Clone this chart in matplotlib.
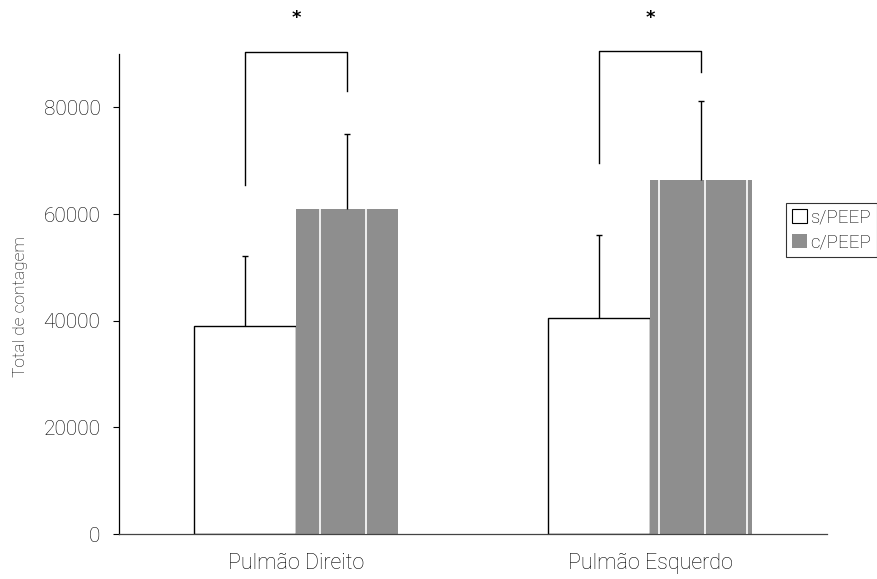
import matplotlib
matplotlib.use('Agg')
from matplotlib import pyplot as plt
from matplotlib.patches import Patch
import numpy as np

# Contagem total por pulmão, sem e com PEEP (média + desvio)
groups = ['Pulmão Direito', 'Pulmão Esquerdo']
series_names = ['s/PEEP', 'c/PEEP']
sem_peep = [39000, 40500]
sem_peep_err = [13100, 15500]
com_peep = [61000, 66300]
com_peep_err = [14000, 14800]

# Colchetes de significância (*) entre os dois grupos
bracket_top = [90300, 90500]
bracket_left_end = [65400, 69500]
bracket_right_end = [83000, 86600]
star_y = 96700

y_ticks = [0, 20000, 40000, 60000, 80000]

plt.rcParams['font.family'] = ['Roboto', 'DejaVu Sans']
plt.rcParams['font.weight'] = 'light'

bar_w = 0.287
gray = '#8e8e8e'
# seams of the gray fill, as fractions of the bar width
seams = [[0.235, 0.69], [0.09, 0.54, 0.95]]

fig = plt.figure(figsize=(8.77, 5.79), dpi=100)
ax = fig.add_axes([119 / 877, 45 / 579, 708 / 877, 480 / 579])

x = np.arange(len(groups))
x_s = x - bar_w / 2
x_c = x + bar_w / 2

ax.bar(x_s, sem_peep, bar_w, color='white', edgecolor='black', linewidth=1.0, zorder=2)
ax.bar(x_c, com_peep, bar_w, color=gray, edgecolor='none', zorder=2)
for i in range(len(groups)):
    left = x_c[i] - bar_w / 2
    for f in seams[i]:
        ax.vlines(left + f * bar_w, 0, com_peep[i], color='white', linewidth=1.2, zorder=3)

# error bars, upper side only (lower caps hidden)
for xs, vals, errs in [(x_s, sem_peep, sem_peep_err), (x_c, com_peep, com_peep_err)]:
    eb = ax.errorbar(xs, vals, yerr=[np.zeros(len(groups)), errs], fmt='none',
                     ecolor='black', elinewidth=1.0, capsize=2.5, capthick=1.0, zorder=4)
    eb[1][0].set_visible(False)

for i in range(len(groups)):
    ax.plot([x_s[i], x_s[i], x_c[i], x_c[i]],
            [bracket_left_end[i], bracket_top[i], bracket_top[i], bracket_right_end[i]],
            color='black', linewidth=1.0, clip_on=False, zorder=4)
    ax.text(x[i], star_y, '*', ha='center', va='center', fontsize=13,
            fontweight='bold', family='DejaVu Sans', clip_on=False)

ax.set_xlim(-0.5, 1.5)
ax.set_ylim(0, 90000)
ax.set_yticks(y_ticks)
ax.set_yticklabels([str(v) for v in y_ticks], fontsize=15)
ax.set_xticks(x)
ax.set_xticklabels(groups, fontsize=15.5)
ax.tick_params(axis='y', direction='out', length=4.3, width=0.8, pad=9)
ax.tick_params(axis='x', length=0, pad=14)
for s in ['top', 'right']:
    ax.spines[s].set_visible(False)
ax.spines['left'].set_linewidth(0.9)
ax.spines['bottom'].set_linewidth(0.9)
ax.spines['bottom'].set_color('#444444')

ax.set_ylabel('Total de contagem', fontsize=12.5, fontweight='light')
ax.yaxis.set_label_coords(-0.1285, 0.475)

handles = [Patch(facecolor='white', edgecolor='black', linewidth=0.8),
           Patch(facecolor=gray, edgecolor='none')]
leg = ax.legend(handles, series_names, loc='upper left',
                bbox_to_anchor=(786 / 877, 1 - 203 / 579), bbox_transform=fig.transFigure,
                fontsize=13.5, frameon=True, fancybox=False, borderaxespad=0,
                handlelength=0.8, handleheight=0.8, handletextpad=0.2,
                borderpad=0.3, labelspacing=0.35)
leg.get_frame().set_edgecolor('black')
leg.get_frame().set_linewidth(0.8)

fig.savefig('out.png', dpi=100)
